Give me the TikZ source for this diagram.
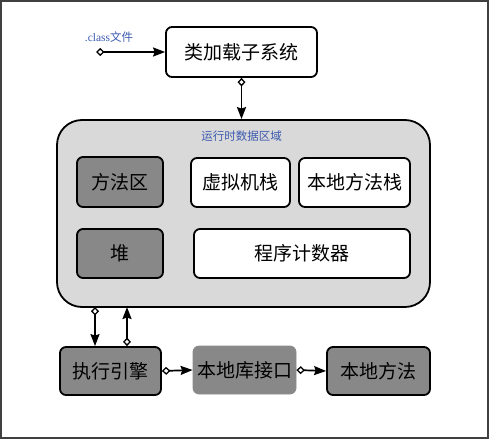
\documentclass[tikz,border=0pt]{standalone}
\usepackage{fontspec}
\newfontfamily\cjk{Noto Sans CJK SC}
\newfontfamily\serifl{Liberation Serif}
\usetikzlibrary{arrows.meta}
\definecolor{darkgray}{RGB}{136,136,136}
\definecolor{areagray}{RGB}{217,217,217}
\definecolor{labelblue}{RGB}{60,90,175}
\begin{document}
\begin{tikzpicture}[x=1pt,y=-1pt,
  box/.style={draw=black,line width=1.8pt,rounded corners=6pt,inner sep=0pt,
    font=\cjk\fontsize{19}{19}\selectfont,text=black},
  whitebox/.style={box,fill=white},
  graybox/.style={box,fill=darkgray},
  conn/.style={line width=1.7pt,{Diamond[open,length=8.5pt,width=8pt,line width=1.3pt]}-{Stealth[length=12pt,width=9pt,inset=1.5pt]}},
  smalllabel/.style={text=labelblue,inner sep=0pt,font=\cjk\fontsize{11.5}{11.5}\selectfont}]
\path[use as bounding box] (0,0) rectangle (489,439);
\draw[line width=2pt,draw=black!75] (1,1) rectangle (488,438);

\node[whitebox,minimum width=151pt,minimum height=50pt] (loader) at (241.5,52) {类加载子系统};
\node[smalllabel] (classlbl) at (109,37) {{\serifl .class}文件};
\coordinate (classin) at (96,52);
\draw[conn] (classin) -- (loader.west);

\node[draw=black,line width=1.8pt,fill=areagray,rounded corners=25pt,minimum width=373pt,minimum height=187pt] (runtime) at (243.5,213.5) {};
\node[smalllabel] (rtlbl) at (241.5,136) {运行时数据区域};

\node[graybox,minimum width=86pt,minimum height=50pt] (fangfa) at (120,182) {方法区};
\node[whitebox,minimum width=99pt,minimum height=49pt] (xuni) at (240.5,182.5) {虚拟机栈};
\node[whitebox,minimum width=111pt,minimum height=49pt] (bdzhan) at (354.5,182.5) {本地方法栈};
\node[graybox,minimum width=86pt,minimum height=49pt] (dui) at (120,253.5) {堆};
\node[whitebox,minimum width=216pt,minimum height=49pt] (pc) at (302,253.5) {程序计数器};

\draw[conn] (loader.south) -- (loader.south |- runtime.north);

\node[graybox,minimum width=101pt,minimum height=48pt] (exec) at (110.5,371) {执行引擎};
\node[box,draw=black!45,line width=0.8pt,fill=darkgray,minimum width=103pt,minimum height=48pt] (iface) at (244.5,370) {本地库接口};
\node[graybox,minimum width=103pt,minimum height=48pt] (nmethod) at (378.5,371) {本地方法};

\coordinate (d1) at (95,307);
\coordinate (d2) at (127,307);
\draw[conn] (d1) -- (d1 |- exec.north);
\draw[conn] (d2 |- exec.north) -- (d2);
\draw[conn] (exec.east) -- (iface.west);
\draw[conn] (iface.east) -- (nmethod.west);
\end{tikzpicture}
\end{document}
